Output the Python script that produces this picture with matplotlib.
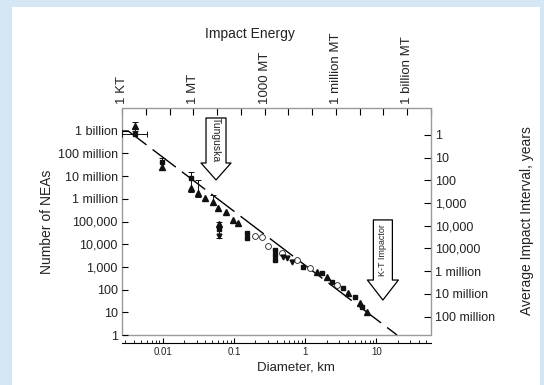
import numpy as np
import matplotlib
matplotlib.use('Agg')
import matplotlib.pyplot as plt
from matplotlib.patches import Rectangle
from matplotlib.ticker import NullLocator, FixedLocator, NullFormatter

plt.rcParams['font.family'] = ['Liberation Sans', 'DejaVu Sans']
plt.rcParams['text.color'] = '#222222'
plt.rcParams['xtick.labelcolor'] = '#222222'
plt.rcParams['ytick.labelcolor'] = '#222222'

# ---- data (diameter in km, number of NEAs larger than that) ----
fit_d = [0.0027, 0.0033, 19.4]
fit_n = [9.7e8, 9.7e8, 1.0]

tri_d = [0.0041, 0.0098, 0.0251, 0.0314, 0.0394, 0.0509, 0.060, 0.0776, 0.0973, 0.114,
         0.062, 1.47, 2.02, 3.99, 5.88, 7.37]
tri_n = [1.6e9, 2.6e7, 3.0e6, 1.8e6, 1.07e6, 7.2e5, 3.9e5, 2.6e5, 1.17e5, 8.6e4,
         7.8e4, 600, 358, 71, 26, 10]

sq_d = [0.0041, 0.0098, 0.0251, 0.062, 0.153, 0.153, 0.378, 0.378, 0.378, 0.93, 2.38,
        1.72, 3.39, 5.0, 6.27]
sq_n = [7.1e8, 4.0e7, 8.3e6, 4.7e4, 3.1e4, 1.9e4, 5.5e3, 3.3e3, 2.0e3, 1000, 215,
        540, 117, 47, 17]

circ_d = [0.198, 0.248, 0.301, 0.473, 0.769, 1.17, 2.80]
circ_n = [2.3e4, 2.1e4, 8.3e3, 4.1e3, 2.0e3, 900, 160]

dtri_d = [0.062, 0.489, 0.556, 0.653]
dtri_n = [2.3e4, 2.7e3, 2.5e3, 1.65e3]

# vertical error bars
err_d = [0.0041, 0.0098, 0.0251, 0.0314, 0.0509, 0.062]
err_n = [1.6e9, 3.2e7, 5.0e6, 2.5e6, 7.2e5, 4.7e4]
err_lo = [9.7e8, 1.9e7, 2.0e6, 1.2e6, 5.3e5, 1.9e4]
err_hi = [2.5e9, 6.3e7, 1.5e7, 6.7e6, 1.5e6, 9.5e4]

# horizontal error bar
herr_d, herr_n, herr_lo, herr_hi = 0.0041, 7.1e8, 0.0027, 0.00605

left_ticks = [1, 10, 100, 1e3, 1e4, 1e5, 1e6, 1e7, 1e8, 1e9]
left_labels = ['1', '10', '100', '1,000', '10,000', '100,000', '1 million',
               '10 million', '100 million', '1 billion']
right_ticks = [1, 10, 100, 1e3, 1e4, 1e5, 1e6, 1e7, 1e8]
right_labels = ['1', '10', '100', '1,000', '10,000', '100,000', '1 million',
                '10 million', '100 million']
energy_ticks = [10.0 ** k for k in range(-3, 11)]
energy_labels = {1e-3: '1 KT', 1.0: '1 MT', 1e3: '1000 MT', 1e6: '1 million MT',
                 1e9: '1 billion MT'}

D_1MT = 0.027        # diameter (km) of a 1 MT impactor on this chart
YEARS_X_N = 6.5e8    # interval (years) * number of NEAs

# ---- figure ----
fig = plt.figure(figsize=(5.44, 3.85), dpi=100, facecolor='#d5e6f5')
fig.patches.append(Rectangle((12 / 544, 0), 528 / 544, 1 - 7 / 385,
                             transform=fig.transFigure, fc='white', ec='none', zorder=-10))

ax = fig.add_axes([122 / 544, 1 - 335 / 385, 309 / 544, 227 / 385])
ax.set_xscale('log')
ax.set_yscale('log')
ax.set_xlim(0.0027, D_1MT * 10 ** (10 / 3))
ax.set_ylim(1, 1e10)
ax.patch.set_alpha(0)

ax.plot(fit_d, fit_n, color='black', lw=1.0, dashes=(21, 5.5), zorder=2)

ax.errorbar(err_d, err_n,
            yerr=[np.array(err_n) - np.array(err_lo), np.array(err_hi) - np.array(err_n)],
            fmt='none', ecolor='#111111', elinewidth=0.7, capsize=2.0, capthick=0.7)
ax.errorbar([herr_d], [herr_n], xerr=[[herr_d - herr_lo], [herr_hi - herr_d]],
            fmt='none', ecolor='#111111', elinewidth=0.7, capsize=2.0, capthick=0.7)

ax.plot(tri_d, tri_n, ls='none', marker='^', ms=3.8, color='#111111', zorder=3)
ax.plot(sq_d, sq_n, ls='none', marker='s', ms=3.0, color='#111111', zorder=3)
ax.plot(circ_d, circ_n, ls='none', marker='o', ms=4.2, mfc='white', mec='#222222',
        mew=0.6, zorder=3)
ax.plot(dtri_d, dtri_n, ls='none', marker='v', ms=3.5, color='#111111', zorder=3)

# hollow arrows
ax.annotate('', xy=(0.0562, 10 ** 6.83), xytext=(0.0562, 10 ** 9.56),
            arrowprops=dict(arrowstyle='simple,head_length=1.22,head_width=2.16,tail_width=1.44',
                            fc='white', ec='black', lw=0.9, shrinkA=0, shrinkB=0,
                            mutation_scale=10))
ax.text(0.0562, 10 ** 8.6, 'Tunguska', rotation=270, ha='center', va='center',
        fontsize=7.5)
ax.annotate('', xy=(12.3, 10 ** 1.54), xytext=(12.3, 10 ** 5.07),
            arrowprops=dict(arrowstyle='simple,head_length=1.44,head_width=2.23,tail_width=1.37',
                            fc='white', ec='black', lw=0.9, shrinkA=0, shrinkB=0,
                            mutation_scale=10))
ax.text(12.3, 10 ** 3.72, 'K-T Impactor', rotation=90, ha='center', va='center',
        fontsize=6.5)

# frame and axes
for s in ['left', 'top', 'right']:
    ax.spines[s].set_visible(False)
ax.add_patch(Rectangle((0, 0), 1, 1, transform=ax.transAxes, fill=False,
                       ec='#9a9a9a', lw=1.0, clip_on=False, zorder=1))
ax.spines['bottom'].set_position(('outward', 5.8))
ax.spines['bottom'].set_color('black')
ax.spines['bottom'].set_linewidth(0.8)

ax.set_xticks([0.01, 0.1, 1, 10], ['0.01', '0.1', '1', '10'])
ax.tick_params(axis='x', which='major', direction='in', length=3.8, width=0.8,
               labelsize=7, pad=3)
ax.tick_params(axis='x', which='minor', direction='in', length=2.2, width=0.6)
ax.xaxis.set_minor_formatter(NullFormatter())

ax.yaxis.set_major_locator(FixedLocator(left_ticks))
ax.yaxis.set_minor_locator(NullLocator())
ax.set_yticklabels(left_labels)
ax.tick_params(axis='y', direction='in', length=4, width=0.8, labelsize=9, pad=3,
               right=False)

top = ax.secondary_xaxis('top', functions=(lambda d: (d / D_1MT) ** 3,
                                           lambda e: D_1MT * np.cbrt(e)))
top.xaxis.set_major_locator(FixedLocator(energy_ticks))
top.xaxis.set_minor_locator(NullLocator())
top.set_xticklabels([energy_labels.get(e, '') for e in energy_ticks])
top.tick_params(axis='x', direction='in', length=5, width=0.8, labelsize=9.5,
                pad=3, labelrotation=90)
for s in top.spines.values():
    s.set_visible(False)

right = ax.secondary_yaxis('right', functions=(lambda n: YEARS_X_N / n,
                                               lambda i: YEARS_X_N / i))
right.yaxis.set_major_locator(FixedLocator(right_ticks))
right.yaxis.set_minor_locator(NullLocator())
right.set_yticklabels(right_labels)
right.tick_params(axis='y', direction='in', length=5, width=0.8, labelsize=9, pad=3)
for s in right.spines.values():
    s.set_visible(False)

fig.text(250 / 544, 1 - 34 / 385, 'Impact Energy', ha='center', va='center', fontsize=10)
fig.text(296 / 544, 1 - 367 / 385, 'Diameter, km', ha='center', va='center', fontsize=9.5)
fig.text(47 / 544, 1 - 222 / 385, 'Number of NEAs', ha='center', va='center',
         rotation=90, fontsize=10)
fig.text(527 / 544, 1 - 221 / 385, 'Average Impact Interval, years', ha='center',
         va='center', rotation=90, fontsize=10)

fig.savefig('out.png', dpi=100, facecolor=fig.get_facecolor())
